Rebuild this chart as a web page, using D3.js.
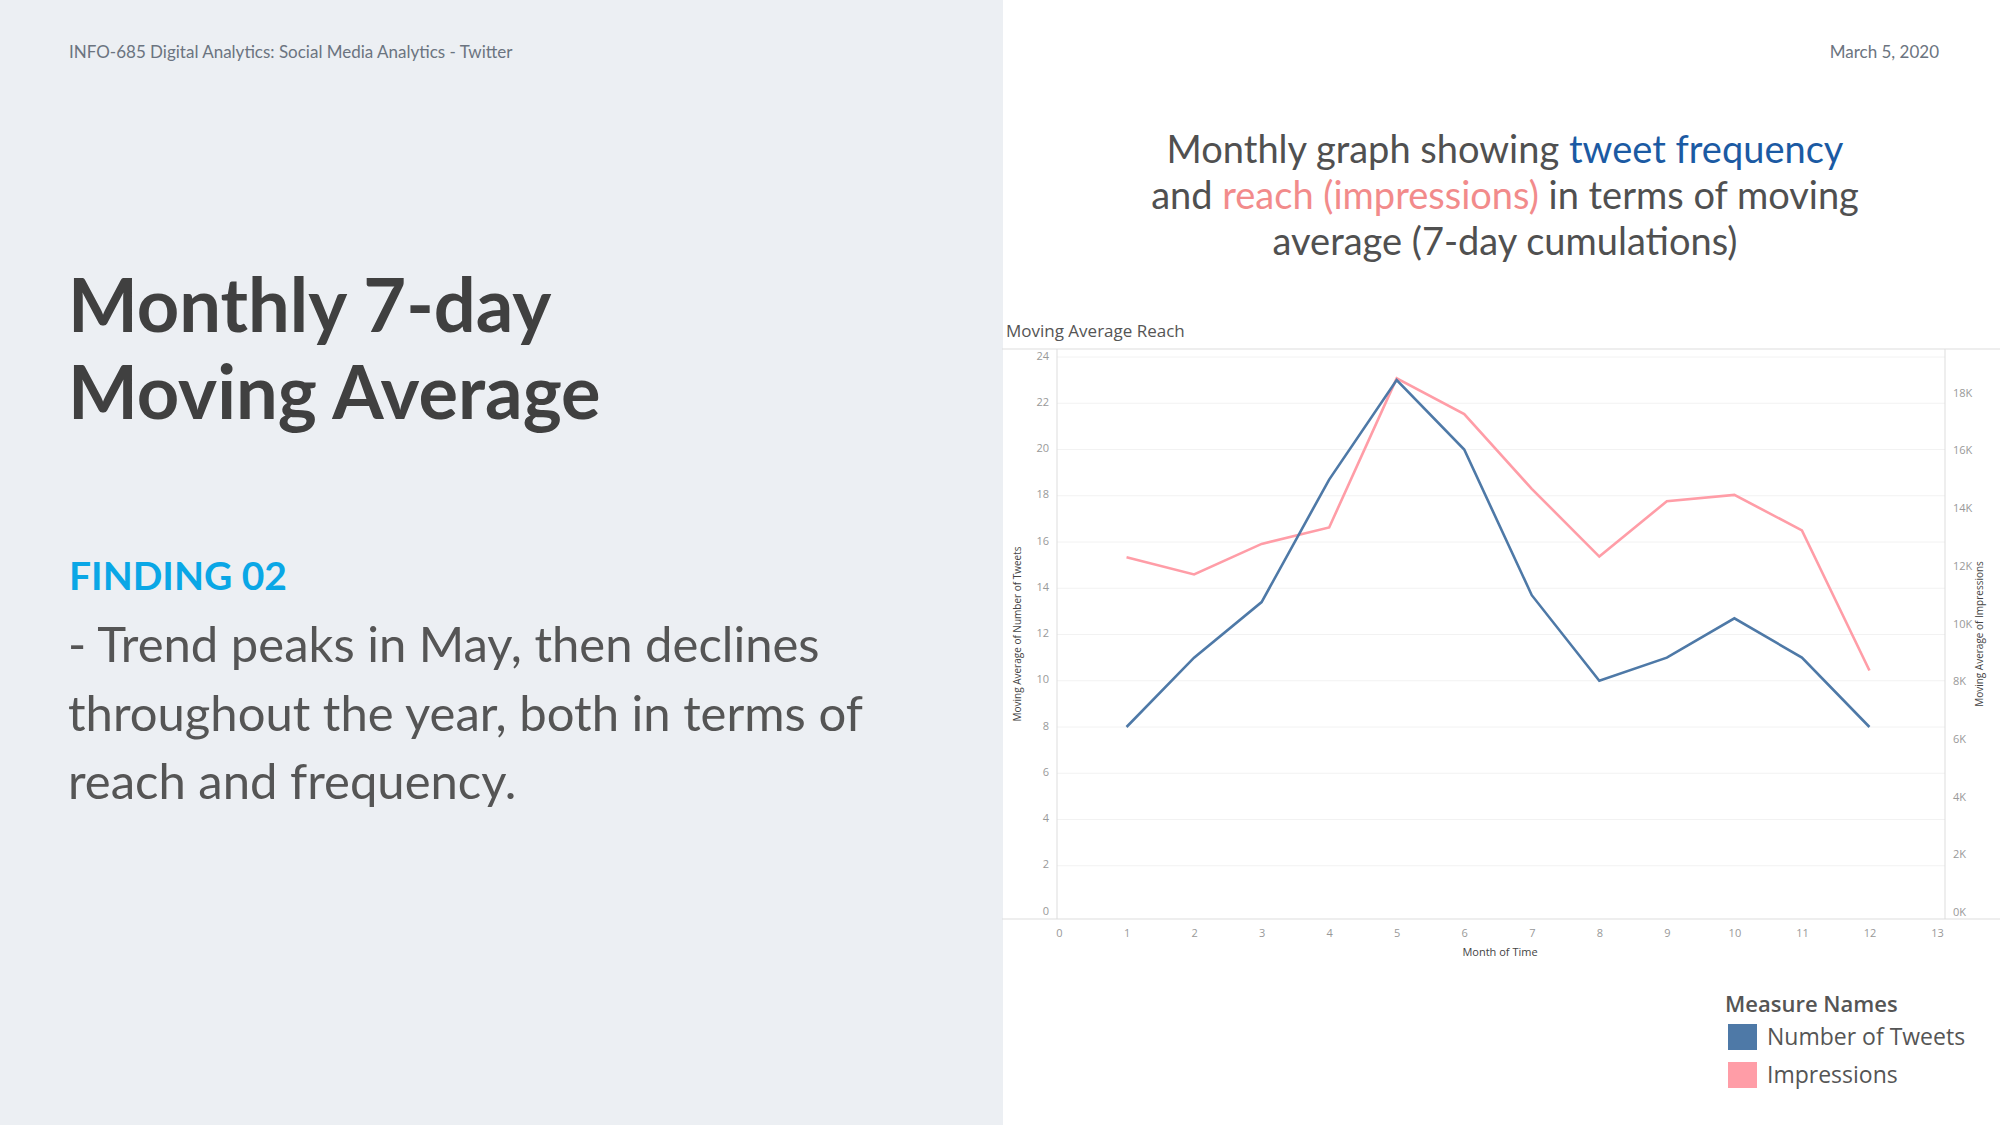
<!DOCTYPE html>
<html><head><meta charset="utf-8">
<script src="https://cdn.jsdelivr.net/npm/d3@7"></script>
<style>body{margin:0;background:#fff}svg{display:block}</style></head>
<body><svg id="c" width="2000" height="1125"></svg>
<script>
const months=[1,2,3,4,5,6,7,8,9,10,11,12];
const tweets=[8,11,13.4,18.7,23,20,13.7,10,11,12.7,11,8];
const impressions=[12300,11700,12760,13330,18500,17260,14670,12320,14240,14460,13230,8370];
const xTicks=d3.range(0,14);
const yLeftTicks=d3.range(0,25,2);
const yRightTicks=[0,2000,4000,6000,8000,10000,12000,14000,16000,18000];
const seriesNames=["Number of Tweets","Impressions"];
const colors=["#4e79a7","#ff9da7"];

const svg=d3.select("#c");
const F="Lato, 'Open Sans', sans-serif";
svg.append("rect").attr("width",1003).attr("height",1125).attr("fill","#eceff3");
svg.append("text").attr("x",69).attr("y",58).attr("font-family",F).attr("font-size",17).attr("fill","#6b7480").text("INFO-685  Digital Analytics: Social Media Analytics - Twitter");
svg.append("text").attr("x",1939).attr("y",58).attr("text-anchor","end").attr("font-family",F).attr("font-size",17).attr("fill","#6b7480").text("March 5, 2020");
["Monthly 7-day","Moving Average"].forEach((t,i)=>svg.append("text").attr("x",68).attr("y",332+i*87).attr("font-family",F).attr("font-weight",700).attr("font-size",74).attr("fill","#404040").text(t));
svg.append("text").attr("x",69).attr("y",590).attr("font-family",F).attr("font-weight",700).attr("font-size",39).attr("fill","#0aa7e6").text("FINDING 02");
["- Trend peaks in May, then declines","throughout the year, both in terms of","reach and frequency."].forEach((t,i)=>svg.append("text").attr("x",68).attr("y",662+i*68.5).attr("font-family",F).attr("font-size",49).attr("fill","#555").text(t));

// subtitle
const sub=[[["Monthly graph showing ","#505050"],["tweet frequency","#1b5aa3"]],[["and ","#505050"],["reach (impressions)","#f28b8b"],[" in terms of moving","#505050"]],[["average (7-day cumulations)","#505050"]]];
sub.forEach((line,i)=>{const t=svg.append("text").attr("x",1505).attr("y",163+i*46).attr("text-anchor","middle").attr("font-family",F).attr("font-size",38);line.forEach(s=>t.append("tspan").attr("fill",s[1]).text(s[0]));});

svg.append("text").attr("x",1006).attr("y",337).attr("font-family","'Open Sans',sans-serif").attr("font-size",17).attr("fill","#555").text("Moving Average Reach");
svg.append("line").attr("x1",1002).attr("x2",2000).attr("y1",349).attr("y2",349).attr("stroke","#ddd");

const x=d3.scaleLinear().domain([0,13]).range([1059,1937]);
const yL=d3.scaleLinear().domain([0,24]).range([912,357]);
const yR=d3.scaleLinear().domain([0,19240]).range([912,357]);
const g=svg.append("g");
yLeftTicks.forEach(v=>{if(v>0)g.append("line").attr("x1",1057).attr("x2",1945).attr("y1",yL(v)).attr("y2",yL(v)).attr("stroke","#f2f2f2");});
g.append("line").attr("x1",1057).attr("x2",1057).attr("y1",349).attr("y2",919).attr("stroke","#ddd");
g.append("line").attr("x1",1945).attr("x2",1945).attr("y1",349).attr("y2",919).attr("stroke","#ddd");
g.append("line").attr("x1",1002).attr("x2",2000).attr("y1",919).attr("y2",919).attr("stroke","#ddd");
const tf="'Open Sans',sans-serif";
const axL=d3.axisLeft(yL).tickValues(yLeftTicks).tickSize(0).tickPadding(8);
const gl=svg.append("g").attr("transform","translate(1057,0)").call(axL);
const axR=d3.axisRight(yR).tickValues(yRightTicks).tickSize(0).tickPadding(8).tickFormat(d=>d/1000+"K");
const gr=svg.append("g").attr("transform","translate(1945,0)").call(axR);
const axB=d3.axisBottom(x).tickValues(xTicks).tickSize(0).tickPadding(8);
const gb=svg.append("g").attr("transform","translate(0,921)").call(axB);
[gl,gr,gb].forEach(a=>{a.select(".domain").remove();a.selectAll("text").attr("font-family",tf).attr("font-size",11).attr("fill","#999");});
gl.selectAll("text").attr("dy","0.2em");
svg.append("text").attr("x",1500).attr("y",956).attr("text-anchor","middle").attr("font-family",tf).attr("font-size",11).attr("fill","#444").text("Month of Time");
svg.append("text").attr("transform","translate(1021,634) rotate(-90)").attr("text-anchor","middle").attr("font-family",tf).attr("font-size",10).attr("fill","#444").text("Moving Average of Number of Tweets");
svg.append("text").attr("transform","translate(1983,634) rotate(-90)").attr("text-anchor","middle").attr("font-family",tf).attr("font-size",10).attr("fill","#444").text("Moving Average of Impressions");

const line=(ys,arr)=>d3.line().x((d,i)=>x(months[i])).y(d=>ys(d))(arr);
svg.append("path").attr("d",line(yR,impressions)).attr("fill","none").attr("stroke",colors[1]).attr("stroke-width",2.6);
svg.append("path").attr("d",line(yL,tweets)).attr("fill","none").attr("stroke",colors[0]).attr("stroke-width",2.6);

svg.append("text").attr("x",1725).attr("y",1012).attr("font-family",tf).attr("font-weight",600).attr("font-size",22).attr("fill","#555").text("Measure Names");
seriesNames.forEach((n,i)=>{
 svg.append("rect").attr("x",1728).attr("y",1024+i*38).attr("width",29).attr("height",26).attr("fill",colors[i]);
 svg.append("text").attr("x",1767).attr("y",1045+i*38).attr("font-family",tf).attr("font-size",23).attr("fill","#555").text(n);
});
</script></body></html>
